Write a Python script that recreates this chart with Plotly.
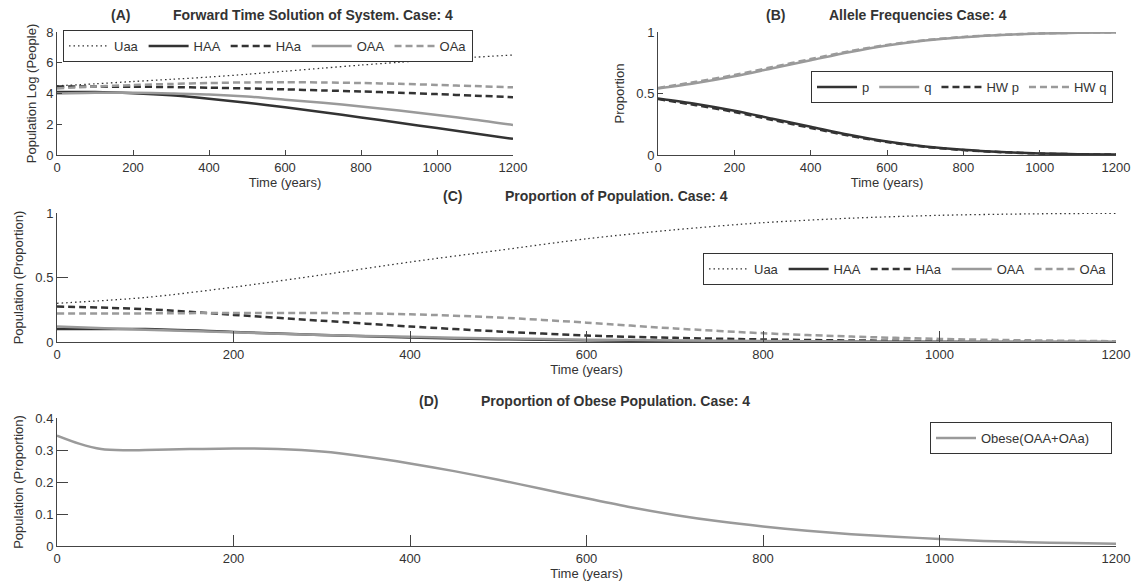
import plotly.graph_objects as go

# ---------------- data ----------------
t100 = [0, 100, 200, 300, 400, 500, 600, 700, 800, 900, 1000, 1100, 1200]
t50 = [0, 25, 50, 75, 100, 150, 200, 250, 300, 350, 400, 450, 500, 550, 600,
       650, 700, 750, 800, 850, 900, 950, 1000, 1050, 1100, 1150, 1200]

# (A) log population
A_Uaa = [4.5, 4.63, 4.78, 4.92, 5.07, 5.25, 5.45, 5.65, 5.85, 6.03, 6.2, 6.36, 6.5]
A_HAA = [4.1, 4.1, 4.02, 3.88, 3.66, 3.4, 3.1, 2.78, 2.44, 2.1, 1.75, 1.4, 1.05]
A_HAa = [4.46, 4.45, 4.44, 4.42, 4.38, 4.33, 4.27, 4.2, 4.13, 4.05, 3.96, 3.86, 3.76]
A_OAA = [4.0, 4.05, 4.05, 4.0, 3.93, 3.8, 3.6, 3.4, 3.15, 2.9, 2.6, 2.3, 1.95]
A_OAa = [4.33, 4.45, 4.55, 4.62, 4.68, 4.72, 4.73, 4.72, 4.68, 4.63, 4.56, 4.48, 4.4]

# (B) allele frequencies
B_p = [0.46, 0.415, 0.36, 0.295, 0.23, 0.165, 0.11, 0.07, 0.042, 0.024, 0.013, 0.007, 0.004]
B_q = [0.54, 0.585, 0.64, 0.705, 0.77, 0.835, 0.89, 0.93, 0.958, 0.976, 0.987, 0.993, 0.996]
B_HWp = [0.455, 0.405, 0.35, 0.285, 0.22, 0.158, 0.105, 0.066, 0.04, 0.023, 0.012, 0.006, 0.004]
B_HWq = [0.545, 0.595, 0.65, 0.715, 0.78, 0.842, 0.895, 0.934, 0.96, 0.977, 0.988, 0.994, 0.996]

# (C) proportion of population
C_Uaa = [0.30, 0.345, 0.425, 0.52, 0.62, 0.71, 0.8, 0.87, 0.925, 0.96, 0.982, 0.993, 0.998]
C_HAA = [0.10, 0.1, 0.078, 0.055, 0.035, 0.022, 0.013, 0.008, 0.004, 0.002, 0.001, 0.0005, 0.0002]
C_HAa = [0.275, 0.255, 0.21, 0.165, 0.12, 0.082, 0.05, 0.032, 0.02, 0.012, 0.007, 0.004, 0.002]
C_OAA = [0.12, 0.095, 0.075, 0.055, 0.04, 0.028, 0.018, 0.012, 0.007, 0.004, 0.002, 0.001, 0.0005]
C_OAa = [0.22, 0.222, 0.225, 0.225, 0.215, 0.19, 0.15, 0.105, 0.068, 0.042, 0.024, 0.013, 0.006]

# (D) proportion obese
D_obese = [0.345, 0.32, 0.303, 0.299, 0.30, 0.303, 0.305, 0.303, 0.295, 0.279, 0.258,
           0.234, 0.207, 0.178, 0.149, 0.121, 0.097, 0.077, 0.061, 0.048, 0.037, 0.029,
           0.022, 0.016, 0.012, 0.009, 0.007]

x_ticks = [0, 200, 400, 600, 800, 1000, 1200]

# ---------------- styles ----------------
DARK = "#333333"
GRAY = "#9a9a9a"
AX = "#444444"
TXT = "#333333"
FONT = "Liberation Sans, Arial, sans-serif"
W, H = 1139, 586

DOT = "1.5px,3px"
DASH = "7px,4px"

fig = go.Figure()


def add(x, y, name, color, dash, width, xa, ya, legend):
    fig.add_trace(go.Scatter(
        x=x, y=y, name=name, mode="lines", xaxis=xa, yaxis=ya, legend=legend,
        line=dict(color=color, dash=dash, width=width, shape="spline", smoothing=0.8),
        hoverinfo="skip"))


# A
add(t100, A_Uaa, "Uaa", DARK, DOT, 1.3, "x", "y", "legend")
add(t100, A_HAA, "HAA", DARK, "solid", 2.5, "x", "y", "legend")
add(t100, A_HAa, "HAa", DARK, DASH, 2.5, "x", "y", "legend")
add(t100, A_OAA, "OAA", GRAY, "solid", 2.5, "x", "y", "legend")
add(t100, A_OAa, "OAa", GRAY, DASH, 2.5, "x", "y", "legend")
# B
add(t100, B_p, "p", DARK, "solid", 2.5, "x2", "y2", "legend2")
add(t100, B_q, "q", GRAY, "solid", 2.5, "x2", "y2", "legend2")
add(t100, B_HWp, "HW p", DARK, DASH, 2.5, "x2", "y2", "legend2")
add(t100, B_HWq, "HW q", GRAY, DASH, 2.5, "x2", "y2", "legend2")
# C
add(t100, C_Uaa, "Uaa", DARK, DOT, 1.3, "x3", "y3", "legend3")
add(t100, C_HAA, "HAA", DARK, "solid", 2.5, "x3", "y3", "legend3")
add(t100, C_HAa, "HAa", DARK, DASH, 2.5, "x3", "y3", "legend3")
add(t100, C_OAA, "OAA", GRAY, "solid", 2.5, "x3", "y3", "legend3")
add(t100, C_OAa, "OAa", GRAY, DASH, 2.5, "x3", "y3", "legend3")
# D
add(t50, D_obese, "Obese(OAA+OAa)", GRAY, "solid", 2.5, "x4", "y4", "legend4")


def px_x(p):
    return p / W


def px_y(p):
    return 1 - p / H


# domains in pixels
A_dom = ([57, 513], [155, 32])
B_dom = ([658, 1116], [155, 32])
C_dom = ([57, 1116], [342, 213])
D_dom = ([57, 1116], [546, 418])


def xaxis(dom, anchor, ticklen):
    return dict(domain=[px_x(dom[0][0]), px_x(dom[0][1])], anchor=anchor,
                range=[0, 1200], tickvals=x_ticks, showgrid=False, zeroline=False,
                showline=True, linecolor=AX, linewidth=1, ticks="inside",
                ticklen=ticklen, tickcolor=AX, tickwidth=1, automargin=False,
                tickfont=dict(size=13, color=TXT, family=FONT),
                title=dict(text="Time (years)", standoff=2,
                           font=dict(size=13, color=TXT, family=FONT)))


def yaxis(dom, anchor, rng, tv, ticklen, title, standoff):
    return dict(domain=[px_y(dom[1][0]), px_y(dom[1][1])], anchor=anchor,
                range=rng, tickvals=tv, showgrid=False, zeroline=False,
                showline=True, linecolor=AX, linewidth=1, ticks="inside",
                ticklen=ticklen, tickcolor=AX, tickwidth=1, automargin=False,
                tickfont=dict(size=13, color=TXT, family=FONT),
                title=dict(text=title, standoff=standoff,
                           font=dict(size=13, color=TXT, family=FONT)))


def legend(x, y, xanchor):
    return dict(orientation="h", x=x, y=y, xanchor=xanchor, yanchor="top",
                bgcolor="white", bordercolor=DARK, borderwidth=1,
                font=dict(size=13, color=TXT, family=FONT),
                itemwidth=40, tracegroupgap=0, itemclick=False)


title_font = dict(size=14, color=TXT, family=FONT)
annotations = []


def title(label, label_cx, text, text_x0, ypx):
    annotations.append(dict(text="<b>" + label + "</b>", x=px_x(label_cx), y=px_y(ypx),
                            xref="paper", yref="paper", xanchor="center", yanchor="middle",
                            showarrow=False, font=title_font))
    annotations.append(dict(text="<b>" + text + "</b>", x=px_x(text_x0), y=px_y(ypx),
                            xref="paper", yref="paper", xanchor="left", yanchor="middle",
                            showarrow=False, font=title_font))


title("(A)", 120, "Forward Time Solution of System. Case: 4", 171, 15)
title("(B)", 775, "Allele Frequencies Case: 4", 827, 15)
title("(C)", 452, "Proportion of Population. Case: 4", 503, 196)
title("(D)", 428, "Proportion of Obese Population. Case: 4", 479, 401)

fig.update_layout(
    width=W, height=H, margin=dict(l=0, r=0, t=0, b=0),
    paper_bgcolor="white", plot_bgcolor="white",
    font=dict(family=FONT, color=TXT, size=13),
    xaxis=xaxis(A_dom, "y", 4.6),
    yaxis=yaxis(A_dom, "x", [0, 8], [0, 2, 4, 6, 8], 4.6, "Population Log (People)", 6),
    xaxis2=xaxis(B_dom, "y2", 4.6),
    yaxis2=yaxis(B_dom, "x2", [0, 1], [0, 0.5, 1], 4.6, "Proportion", 8),
    xaxis3=xaxis(C_dom, "y3", 10.6),
    yaxis3=yaxis(C_dom, "x3", [0, 1], [0, 0.5, 1], 10.6, "Population (Proportion)", 8),
    xaxis4=xaxis(D_dom, "y4", 10.6),
    yaxis4=yaxis(D_dom, "x4", [0, 0.4], [0, 0.1, 0.2, 0.3, 0.4], 10.6, "Population (Proportion)", 8),
    legend=legend(px_x(63), px_y(30), "left"),
    legend2=legend(px_x(1113), px_y(71), "right"),
    legend3=legend(px_x(1113), px_y(253), "right"),
    legend4=dict(legend(px_x(1112), px_y(422), "right"), entrywidth=125),
    annotations=annotations,
    showlegend=True,
)

fig.write_html("out.html", config={"displayModeBar": False})
